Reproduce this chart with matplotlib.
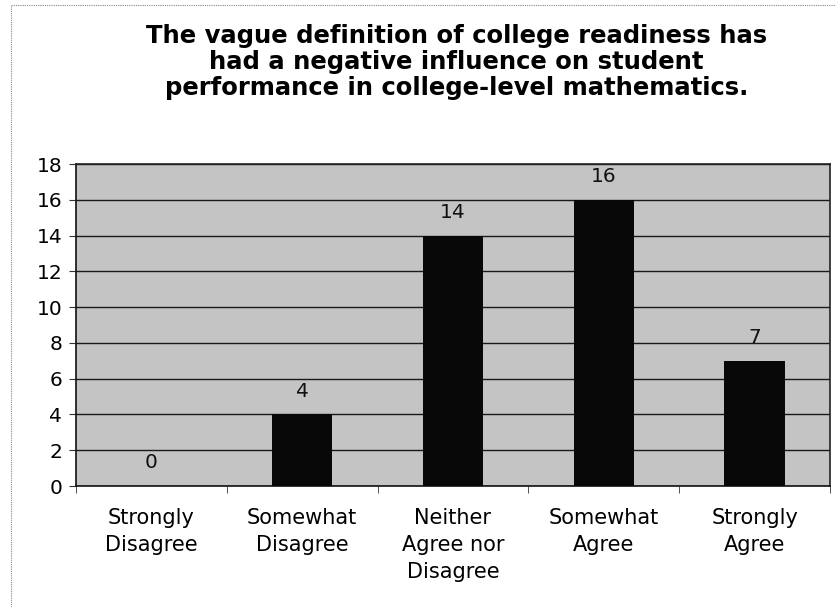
import matplotlib
matplotlib.use("Agg")
import matplotlib.pyplot as plt
from matplotlib.lines import Line2D
import numpy as np

categories = ["Strongly\nDisagree", "Somewhat\nDisagree", "Neither\nAgree nor\nDisagree",
              "Somewhat\nAgree", "Strongly\nAgree"]
values = [0, 4, 14, 16, 7]
yticks = [0, 2, 4, 6, 8, 10, 12, 14, 16, 18]
title = ("The vague definition of college readiness has\n"
         "had a negative influence on student\n"
         "performance in college-level mathematics.")

plt.rcParams['font.family'] = ['DejaVu Sans']

fig = plt.figure(figsize=(8.36, 6.07), dpi=100)
ax = fig.add_axes([76/836, 1-486/607, (830-76)/836, (486-164)/607])
ax.set_facecolor("#c4c4c4")

x = np.arange(len(categories))
bars = ax.bar(x, values, width=0.4, color="#080808", zorder=3)
for xi, v in zip(x, values):
    ax.annotate(str(v), (xi, v), xytext=(0, 10), textcoords="offset points",
                ha="center", va="bottom", fontsize=14.5, color="#111111", zorder=4)

ax.set_ylim(0, 18)
ax.set_xlim(-0.5, len(categories) - 0.5)
ax.set_yticks(yticks)
ax.set_yticklabels([str(t) for t in yticks], fontsize=14.5)
ax.yaxis.grid(True, color="#1a1a1a", linewidth=1.0, zorder=1)
ax.set_axisbelow(True)

ax.set_xticks(x)
ax.set_xticklabels(categories, fontsize=15, linespacing=1.42, va="top")
ax.tick_params(axis="x", length=0, pad=16)
ax.set_xticks(np.arange(len(categories) + 1) - 0.5, minor=True)
ax.tick_params(axis="x", which="minor", length=5, color="#333333", direction="out")
ax.tick_params(axis="y", length=5, color="#333333", pad=5)

for s in ["left", "bottom"]:
    ax.spines[s].set_color("#111111")
    ax.spines[s].set_linewidth(1.2)
for s in ["top", "right"]:
    ax.spines[s].set_color("#222222")
    ax.spines[s].set_linewidth(1.2)

fig.text(0.546, 1 - 24/607, title, ha="center", va="top", fontsize=17.5,
         fontweight="bold", linespacing=1.1)

# outer chart border (dotted, gray)
fig.add_artist(Line2D([11/836, 11/836], [0, 1 - 5/607], transform=fig.transFigure,
                      color="#888888", linewidth=0.8, linestyle=(0, (1, 1))))
fig.add_artist(Line2D([11/836, 1], [1 - 5/607, 1 - 5/607], transform=fig.transFigure,
                      color="#888888", linewidth=0.8, linestyle=(0, (1, 1))))

fig.savefig("out.png", dpi=100, facecolor="white")
